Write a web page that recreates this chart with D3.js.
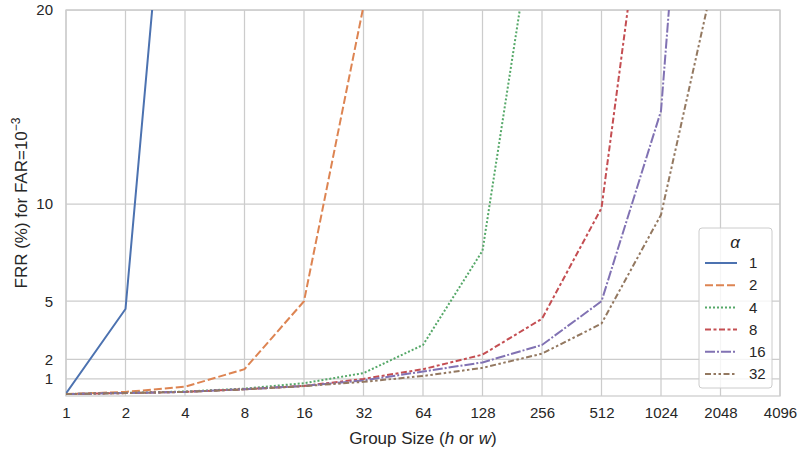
<!DOCTYPE html>
<meta charset="utf-8">
<style>
    body { margin: 0; background: #fff; }
    svg { font-family: "Liberation Sans", Arial, sans-serif; }
    .tick text { font-size: 15px; fill: #262626; }
    .grid line { stroke: #cccccc; stroke-width: 1.25; }
</style>
<body>
<script src="https://d3js.org/d3.v7.min.js"></script>
<script>
    var groupSizes = [1, 2, 4, 8, 16, 32, 64, 128, 256, 512, 1024, 2048, 4096];
    var xTicks = [1, 2, 4, 8, 16, 32, 64, 128, 256, 512, 1024, 2048, 4096];
    var yTicks = [1, 2, 5, 10, 20];
    var alphas = ["1", "2", "4", "8", "16", "32"];

    var frr1 = [0.25, 4.6, 39];
    var frr2 = [0.22, 0.33, 0.6, 1.5, 5.0, 20.2];
    var frr4 = [0.22, 0.28, 0.35, 0.5, 0.78, 1.3, 2.75, 7.6, 27.4];
    var frr8 = [0.22, 0.27, 0.33, 0.47, 0.64, 1.0, 1.5, 2.25, 4.1, 9.8, 33];
    var frr16 = [0.22, 0.27, 0.33, 0.47, 0.64, 0.92, 1.38, 1.85, 2.75, 5.0, 14.8, 54];
    var frr32 = [0.22, 0.27, 0.33, 0.46, 0.63, 0.85, 1.15, 1.57, 2.3, 3.85, 9.45, 23.2];

    var series = [frr1, frr2, frr4, frr8, frr16, frr32];
    var colors = ["#4c72b0", "#dd8452", "#55a868", "#c44e52", "#8172b3", "#937860"];
    var dashes = ["none", "8,3", "2,2", "6,2.5,3,2.5", "10,2,2,2", "6,2.5,2.5,2.5,2.5,2.5"];

    var margin = { top: 10, right: 20, bottom: 57, left: 66 },
        width = 800 - margin.left - margin.right,
        height = 453 - margin.top - margin.bottom;

    var svg = d3.select("body").append("svg")
        .attr("width", 800)
        .attr("height", 453);

    var g = svg.append("g")
        .attr("transform", "translate(" + margin.left + "," + margin.top + ")");

    var x = d3.scaleLog().base(2).domain([1, 4096]).range([0, width]);
    var y = d3.scaleLinear().domain([0.12, 20]).range([height, 0]);

    g.append("defs").append("clipPath").attr("id", "clip")
        .append("rect").attr("width", width).attr("height", height);

    // grid
    g.append("g").attr("class", "grid")
        .selectAll("line").data(xTicks).enter().append("line")
        .attr("x1", d => x(d)).attr("x2", d => x(d))
        .attr("y1", 0).attr("y2", height);
    g.append("g").attr("class", "grid")
        .selectAll("line").data(yTicks).enter().append("line")
        .attr("y1", d => y(d)).attr("y2", d => y(d))
        .attr("x1", 0).attr("x2", width);

    // axes
    var xAxis = g.append("g")
        .attr("transform", "translate(0," + height + ")")
        .call(d3.axisBottom(x).tickValues(xTicks).tickFormat(d3.format("d")).tickSize(0).tickPadding(11));
    xAxis.select(".domain").remove();

    var yAxis = g.append("g")
        .call(d3.axisLeft(y).tickValues(yTicks).tickFormat(d3.format("d")).tickSize(0).tickPadding(13));
    yAxis.select(".domain").remove();

    // frame
    g.append("rect")
        .attr("width", width).attr("height", height)
        .attr("fill", "none").attr("stroke", "#cccccc").attr("stroke-width", 1.25);

    var line = d3.line()
        .x((d, i) => x(groupSizes[i]))
        .y(d => y(d));

    g.append("g").attr("clip-path", "url(#clip)")
        .selectAll("path").data(series).enter().append("path")
        .attr("d", d => line(d))
        .attr("fill", "none")
        .attr("stroke", (d, i) => colors[i])
        .attr("stroke-width", 2)
        .attr("stroke-dasharray", (d, i) => dashes[i]);

    // axis labels
    svg.append("text")
        .attr("x", margin.left + width / 2)
        .attr("y", 444)
        .attr("text-anchor", "middle")
        .attr("font-size", 17)
        .attr("fill", "#262626")
        .html('Group Size (<tspan font-style="italic">h</tspan> or <tspan font-style="italic">w</tspan>)');

    svg.append("text")
        .attr("transform", "translate(27," + (margin.top + height / 2) + ") rotate(-90)")
        .attr("text-anchor", "middle")
        .attr("font-size", 17)
        .attr("fill", "#262626")
        .html('FRR (%) for FAR=10<tspan dy="-7" font-size="12">\u22123</tspan>');

    // legend
    var lg = svg.append("g").attr("transform", "translate(699,228)");
    lg.append("rect")
        .attr("width", 73).attr("height", 160)
        .attr("rx", 3)
        .attr("fill", "#fff").attr("fill-opacity", 0.8)
        .attr("stroke", "#cccccc");
    lg.append("text")
        .attr("x", 36).attr("y", 20)
        .attr("text-anchor", "middle")
        .attr("font-size", 17)
        .attr("font-style", "italic")
        .attr("fill", "#262626")
        .text("\u03b1");
    var items = lg.selectAll("g.item").data(alphas).enter().append("g")
        .attr("class", "item")
        .attr("transform", (d, i) => "translate(0," + (35 + i * 22.2) + ")");
    items.append("line")
        .attr("x1", 6).attr("x2", 38)
        .attr("stroke", (d, i) => colors[i])
        .attr("stroke-width", 2)
        .attr("stroke-dasharray", (d, i) => dashes[i]);
    items.append("text")
        .attr("x", 50).attr("dy", "0.35em")
        .attr("font-size", 15)
        .attr("fill", "#262626")
        .text(d => d);
</script>
</body>
